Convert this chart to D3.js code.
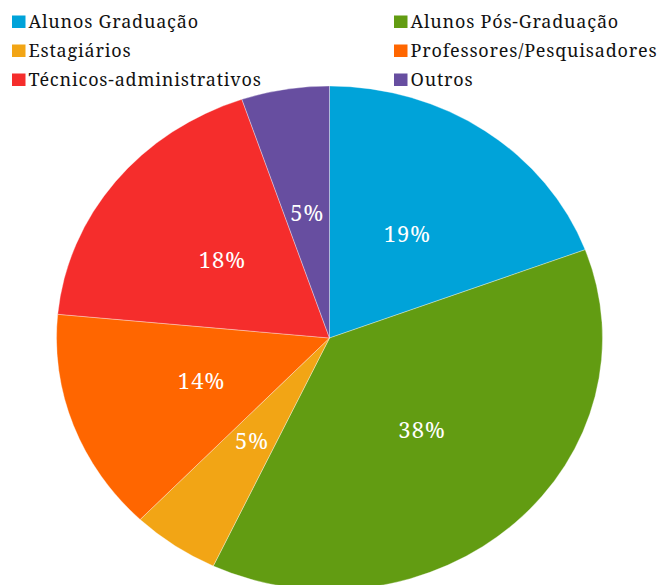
<!DOCTYPE html>
<html><head><meta charset="utf-8">
<script src="https://cdn.jsdelivr.net/npm/d3@7"></script>
<style>body{margin:0;background:#fff}svg{display:block}</style>
</head><body>
<svg id="c" width="670" height="585"></svg>
<script>
const categories = ["Alunos Graduação","Alunos Pós-Graduação","Estagiários","Professores/Pesquisadores","Técnicos-administrativos","Outros"];
const values = [19.3, 37.7, 5.2, 14.3, 18.3, 5.2];
const labels = ["19%","38%","5%","14%","18%","5%"];
const colors = ["#00A3D9","#629C12","#F2A515","#FF6600","#F52D2C","#674EA0"];

const svg = d3.select("#c");
const cx = 329.5, cy = 338, rx = 273, ry = 252, ky = ry / rx;
const pie = d3.pie().sort(null).value(d => d)(values);
const arc = d3.arc().innerRadius(0).outerRadius(rx);
const g = svg.append("g").attr("transform", `translate(${cx},${cy}) scale(1,${ky})`);
g.selectAll("path").data(pie).join("path")
  .attr("d", arc).attr("fill", (d,i) => colors[i])
  .attr("stroke", "#fff").attr("stroke-width", 0.6).attr("stroke-opacity", 0.6);
svg.append("g").selectAll("text").data(pie).join("text")
  .attr("x", d => cx + arc.centroid(d)[0])
  .attr("y", d => cy + arc.centroid(d)[1] * ky)
  .attr("dy", "0.35em")
  .attr("text-anchor", "middle")
  .attr("fill", "#fff")
  .attr("font-family", "Noto Serif")
  .attr("font-size", 22)
  .attr("letter-spacing", 1)
  .text((d,i) => labels[i]);

const leg = svg.append("g").attr("font-family", "Noto Serif").attr("font-size", 18).attr("letter-spacing", 0.8);
categories.forEach((c,i) => {
  const col = i % 2, row = Math.floor(i / 2);
  const x = col ? 394 : 12, y = 28 + row * 29;
  leg.append("rect").attr("x", x).attr("y", y - 12.5).attr("width", 13.5).attr("height", 12.5).attr("fill", colors[i]);
  leg.append("text").attr("x", x + 16.5).attr("y", y).attr("fill", "#111").text(c);
});
</script>
</body></html>
